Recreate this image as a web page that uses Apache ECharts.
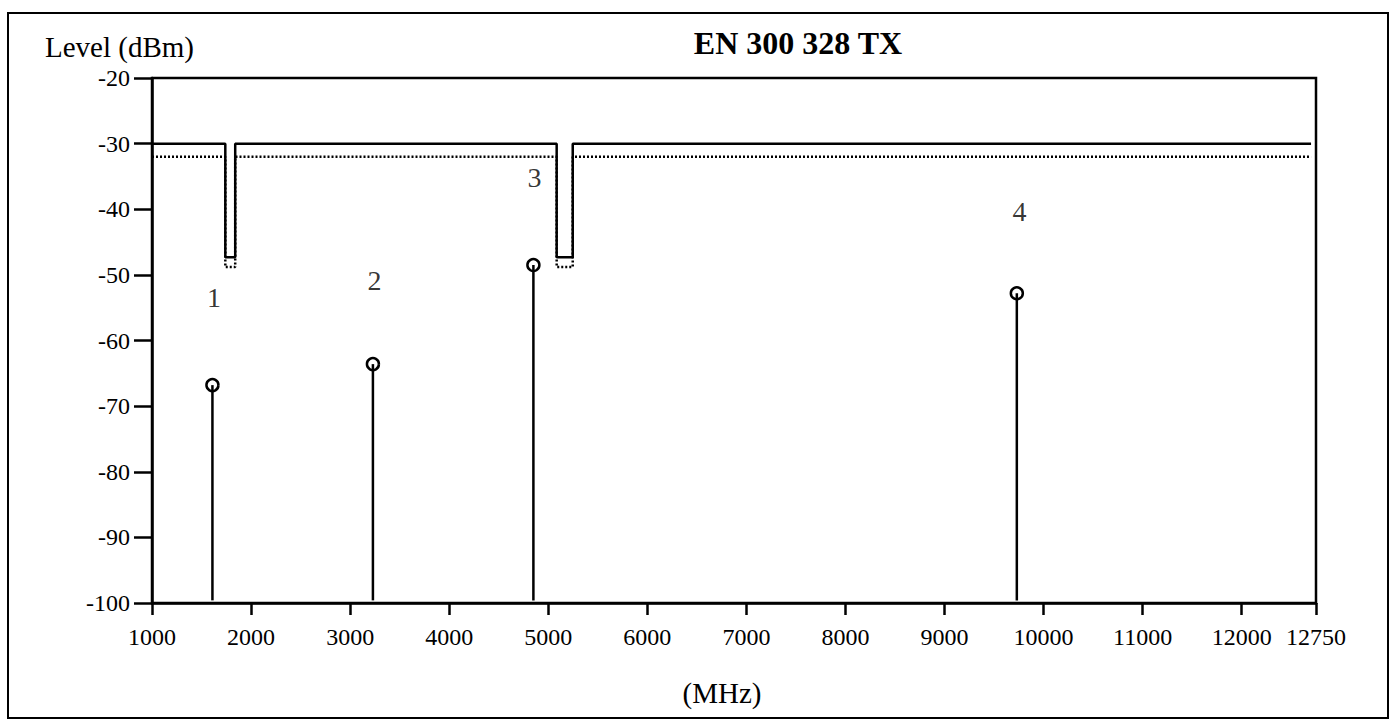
<!DOCTYPE html>
<html>
<head>
<meta charset="utf-8">
<script src="https://cdn.jsdelivr.net/npm/echarts@6/dist/echarts.min.js"></script>
<style>
html,body{margin:0;padding:0;background:#fff;}
#chart{width:1392px;height:724px;}
</style>
</head>
<body>
<div id="chart"></div>
<script>
// ---- data ----
const xTickValues = [1000, 2000, 3000, 4000, 5000, 6000, 7000, 8000, 9000, 10000, 11000, 12000, 12750];
const yMin = -100, yMax = -20, yStep = 10;

// limit lines (frequency MHz, level dBm)
const limitFreq   = [1000, 1740, 1740, 1840, 1840, 5085, 5085, 5247, 5247, 12700];
const limitSolid  = [-30, -30, -47.3, -47.3, -30, -30, -47.3, -47.3, -30, -30];
const limitDotted = [-32, -32, -48.8, -48.8, -32, -32, -48.8, -48.8, -32, -32];

// measured spurious emissions
const spurFreq  = [1610, 3230, 4850, 9730];
const spurLevel = [-66.8, -63.6, -48.5, -52.8];
const stemBase = -99.6;

// marker number labels
const markerNames = ['1', '2', '3', '4'];
const markerFreq  = [1627, 3245, 4862, 9756];
const markerLevel = [-53.5, -50.9, -35.2, -40.3];

const SERIF = '"Liberation Serif", "Times New Roman", "DejaVu Serif", serif';

const chart = echarts.init(document.getElementById('chart'), null, {renderer: 'svg'});

const zip = (a, b) => a.map((v, i) => [v, b[i]]);

chart.setOption({
  backgroundColor: '#fff',
  animation: false,
  grid: {left: 152, right: 76, top: 78, bottom: 121, show: true, borderColor: '#000', borderWidth: 2.5, backgroundColor: 'transparent'},
  xAxis: {
    type: 'value', min: 1000, max: 12750,
    axisLine: {show: true, lineStyle: {color: '#000', width: 2.5}},
    axisTick: {show: true, customValues: xTickValues, length: 12, inside: false, lineStyle: {color: '#000', width: 2.5}},
    axisLabel: {customValues: xTickValues, margin: 22, color: '#000', fontFamily: SERIF, fontSize: 24,
      formatter: v => String(v)},
    splitLine: {show: false}
  },
  yAxis: {
    type: 'value', min: yMin, max: yMax, interval: yStep,
    axisLine: {show: true, lineStyle: {color: '#000', width: 2.5}},
    axisTick: {show: true, length: 18, inside: false, lineStyle: {color: '#000', width: 2.5}},
    axisLabel: {margin: 22, color: '#000', fontFamily: SERIF, fontSize: 24},
    splitLine: {show: false}
  },
  graphic: [
    {type: 'rect', shape: {x: 8, y: 13, width: 1380, height: 705}, style: {fill: 'none', stroke: '#000', lineWidth: 2}, z: 100},
    {type: 'text', x: 798, y: 43, style: {text: 'EN 300 328 TX', font: 'bold 32px ' + SERIF, fill: '#000', textAlign: 'center', textVerticalAlign: 'middle'}},
    {type: 'text', x: 45, y: 47, style: {text: 'Level (dBm)', font: '29px ' + SERIF, fill: '#000', textAlign: 'left', textVerticalAlign: 'middle'}},
    {type: 'text', x: 722, y: 693, style: {text: '(MHz)', font: '29px ' + SERIF, fill: '#000', textAlign: 'center', textVerticalAlign: 'middle'}}
  ],
  series: [
    {
      name: 'limit', type: 'line', data: zip(limitFreq, limitSolid), symbol: 'none',
      lineStyle: {color: '#000', width: 2.5}, z: 3
    },
    {
      name: 'limit-dotted', type: 'line', data: zip(limitFreq, limitDotted), symbol: 'none',
      lineStyle: {color: '#000', width: 2.5, type: [2, 2]}, z: 2
    },
    {
      name: 'spurs', type: 'custom', data: zip(spurFreq, spurLevel),
      renderItem: function (params, api) {
        const f = api.value(0), l = api.value(1);
        const top = api.coord([f, l]);
        const bot = api.coord([f, stemBase]);
        return {type: 'group', children: [
          {type: 'line', shape: {x1: top[0], y1: top[1], x2: bot[0], y2: bot[1]}, style: {stroke: '#000', lineWidth: 2.5}},
          {type: 'circle', shape: {cx: top[0], cy: top[1], r: 6}, style: {fill: 'none', stroke: '#000', lineWidth: 2.5}}
        ]};
      }, z: 4
    },
    {
      name: 'markers', type: 'scatter', symbolSize: 0,
      data: markerNames.map((n, i) => ({name: n, value: [markerFreq[i], markerLevel[i]]})),
      label: {show: true, position: 'inside', formatter: p => p.name, color: '#000', fontFamily: SERIF, fontSize: 28},
      z: 5
    }
  ]
});
</script>
</body>
</html>
